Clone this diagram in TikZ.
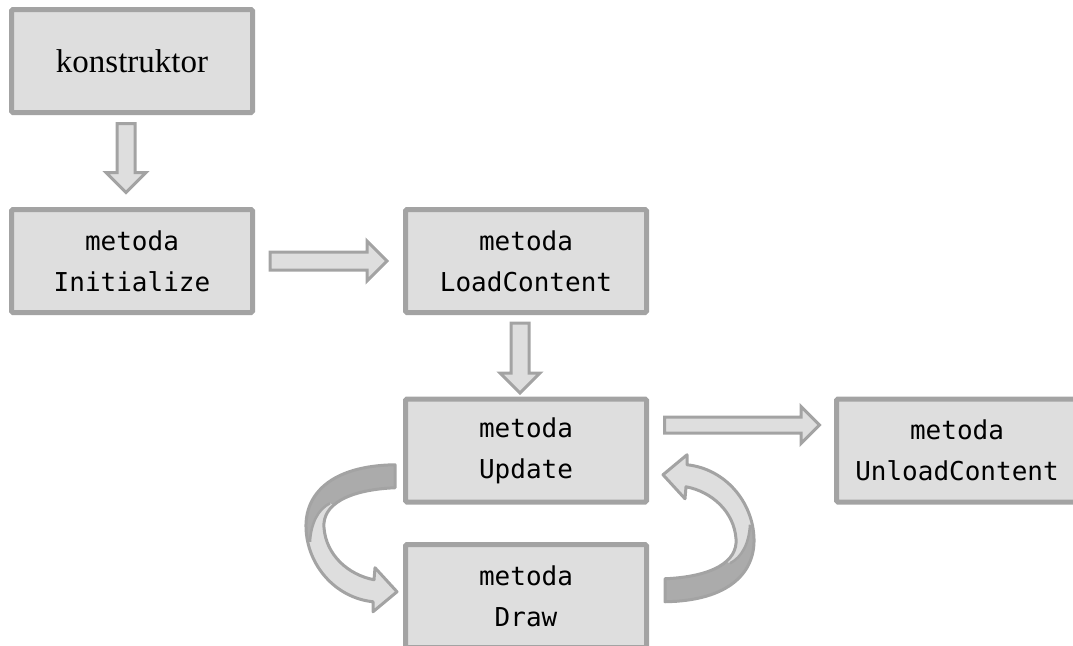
\documentclass[tikz,border=0pt]{standalone}
\usepackage{fontspec}
\setmainfont{Liberation Serif}
\newfontfamily\codefont{DejaVu Sans Mono}
\usetikzlibrary{shapes.arrows,calc}

\definecolor{boxfill}{HTML}{DEDEDE}
\definecolor{boxedge}{HTML}{A3A3A3}
\definecolor{ribbondark}{HTML}{ABABAB}

\tikzset{
  stagebox/.style={draw=boxedge, fill=boxfill, line width=5pt, rounded corners=1.5pt,
    minimum width=241pt, minimum height=103pt, inner sep=0pt, align=center,
    font=\codefont\fontsize{26}{41}\selectfont},
  flowarrow/.style={single arrow, draw=boxedge, fill=boxfill, line width=3pt,
    inner xsep=0pt, inner ysep=7.5pt, minimum width=37pt,
    single arrow head extend=11pt, single arrow tip angle=90},
  downarrow/.style={flowarrow, shape border rotate=270, inner xsep=7.5pt, inner ysep=0pt},
  ribbonline/.style={draw=boxedge, line width=3pt, line join=round},
  % curved ribbon arrow, drawn around its own centre point
  ribbon/.pic={
    \def\ribbonpath{(-135,-68.5) .. controls (-200,-67.5) and (-225,-38.5) .. (-224,-5.5)
      .. controls (-223,31.5) and (-195,64.5) .. (-157,68.5)
      -- (-157,78.5) -- (-133,58.5) -- (-155,34.5) -- (-156,46.5)
      .. controls (-182,41.5) and (-204,21.5) .. (-206,-5.5)
      .. controls (-208,-28.5) and (-182,-43.5) .. (-135,-45.5) -- cycle}
    \fill[boxfill] \ribbonpath;
    \begin{scope}
      \clip \ribbonpath;
      \fill[ribbondark] (-130,-80) -- (-240,-80) -- (-240,8.5) -- (-220,8.5)
        .. controls (-219,-10) and (-212,-24) .. (-200,-30)
        -- (-180,-22) -- (-130,-22) -- cycle;
      \draw[ribbonline, line width=2.5pt] (-220,8.5)
        .. controls (-219,-10) and (-212,-24) .. (-200,-30);
    \end{scope}
    \draw[ribbonline] \ribbonpath;
  }
}

\begin{document}
\begin{tikzpicture}[x=1pt, y=-1pt]
\useasboundingbox (0,0) rectangle (1073,645);

% stages
\node[stagebox, font=\fontsize{33}{40}\selectfont] (k) at (132,61) {konstruktor};
\node[stagebox] (i)  at (132,261)   {metoda\\Initialize};
\node[stagebox] (l)  at (526,261)   {metoda\\LoadContent};
\node[stagebox] (u)  at (526,450.5) {metoda\\Update};
\node[stagebox] (d)  at (526,596)   {metoda\\Draw};
\node[stagebox] (un) at (957,450.5) {metoda\\UnloadContent};

% straight block arrows
\node[downarrow, minimum height=69pt, anchor=tail]
  (a1) at ($(k.south)+(-6,7)$) {};
\node[flowarrow, minimum height=117pt, anchor=tail]
  (a2) at ($(i.east)+(13.5,0)$) {};
\node[downarrow, minimum height=70pt, anchor=tail]
  (a3) at ($(l.south)+(-6,6.5)$) {};
\node[flowarrow, minimum height=155pt, inner ysep=6.5pt, minimum width=34pt,
  single arrow head extend=10.5pt, anchor=tail] (a4) at ($(u.east)+(14,-25.5)$) {};

% update/draw loop
\coordinate (loop) at ($(u.center)!0.5!(d.center)+(4,10)$);
\pic at (loop) {ribbon};
\pic[rotate=180] at (loop) {ribbon};
\end{tikzpicture}
\end{document}
